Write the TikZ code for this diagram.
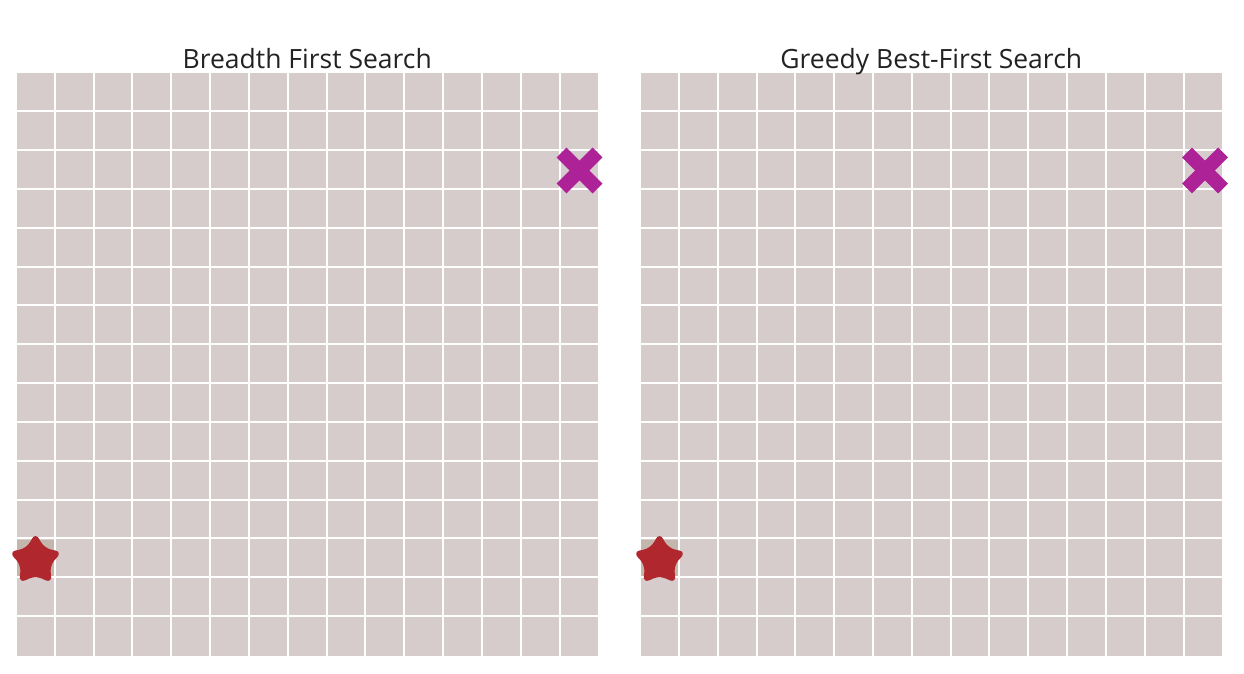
\documentclass[tikz,border=0pt]{standalone}
\usepackage{fontspec}
\setmainfont{Open Sans}
\usetikzlibrary{shapes.geometric}
\definecolor{cellgray}{RGB}{214,204,204}
\definecolor{startcell}{RGB}{197,182,171}
\definecolor{starred}{RGB}{176,40,46}
\definecolor{goalpink}{RGB}{174,34,152}
\definecolor{titlegray}{RGB}{34,34,34}
\tikzset{title/.style={text=titlegray,font=\fontsize{26.5}{30}\selectfont,anchor=base}}
\tikzset{gridline/.style={white,line width=2}}
\tikzset{startstar/.style={star,star points=5,star point ratio=1.85,minimum size=56,
  inner sep=0pt,fill=starred,rounded corners=7}}
\tikzset{goalcross/.style={goalpink,line width=14}}
\newcommand*{\pitch}{38.83}

\begin{document}
\begin{tikzpicture}[x=1pt,y=-1pt]
\useasboundingbox (0,0) rectangle (1244,674);

\foreach \gx/\name/\txt/\gshift in {17/bfs/Breadth First Search/0,641/gbfs/Greedy Best-First Search/1.5} {
  % Draw the board and its title
  \fill[cellgray] (\gx,73.5) rectangle +(580.5,582.5);
  \fill[startcell] (\gx,539.5) rectangle +(36.8,36.8);
  \foreach \i in {1,...,14} {
    \draw[gridline] ({\gx+\i*\pitch-1},73.5) -- +(0,582.5);
    \draw[gridline] (\gx,{73.5+\i*\pitch-1}) -- +(580.5,0);
  }
  \node[title] (\name-title) at (\gx+290.25,69) {\txt};

  % Start (star) and goal (cross)
  \node[startstar] (\name-start) at (\gx+18.5,560.5) {};
  \coordinate (\name-goal) at (\gx+562.5+\gshift,170.5);
  \draw[goalcross] (\name-goal) ++(-18,-18) -- ++(36,36);
  \draw[goalcross] (\name-goal) ++(18,-18) -- ++(-36,36);
}
\end{tikzpicture}
\end{document}
